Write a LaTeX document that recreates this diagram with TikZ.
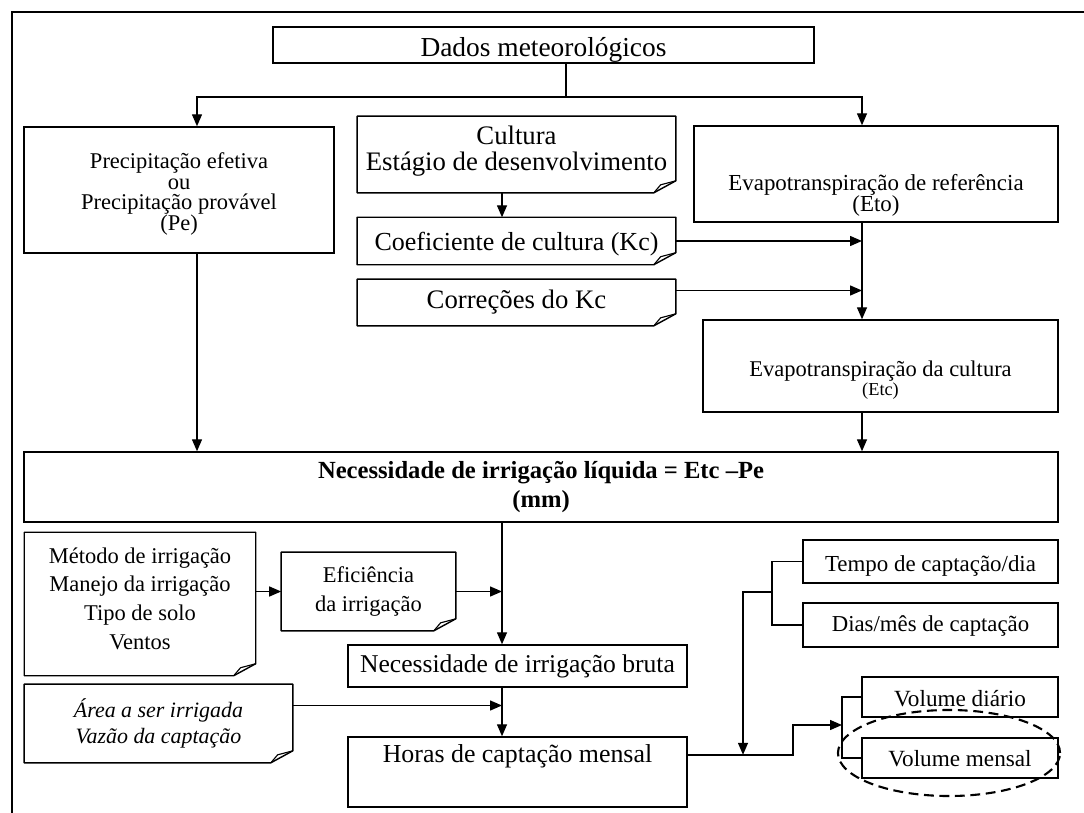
\documentclass[tikz,border=0pt]{standalone}
\usepackage{fontspec}
\setmainfont{Liberation Serif}
\usetikzlibrary{arrows.meta,shapes.geometric}
\newcommand{\padT}[1]{\rule{0pt}{#1}}
\newcommand{\padB}[1]{\rule[-#1]{0pt}{#1}}
\newcommand{\boxfont}[2]{\fontsize{#1}{#2}\selectfont\lineskiplimit-20pt\relax}
\tikzset{
  blk/.style={
    rectangle, draw=black, line width=1pt, align=center, inner sep=0pt,
    font=\boxfont{16}{17},
  },
  blkF/.style={
    blk, draw=none,
    append after command={\pgfextra{\let\foldnode\tikzlastnode
      \draw[line width=1pt, line join=round]
        (\foldnode.south west) -- (\foldnode.north west) -- (\foldnode.north east)
        -- ([yshift=0.3cm]\foldnode.south east) -- ([xshift=-0.55cm]\foldnode.south east) -- cycle;
      \draw[line width=0.8pt, line join=round]
        ([xshift=-0.55cm]\foldnode.south east) -- ([xshift=-0.38cm,yshift=0.2cm]\foldnode.south east)
        -- ([yshift=0.3cm]\foldnode.south east);}},
  },
  lnk/.style={line width=1pt},
  arr/.style={-{Triangle[length=3mm,width=2.5mm]}, line width=1pt},
  frame/.style={line width=1.8pt},
  ring/.style={ellipse, draw, line width=1.5pt, dash pattern=on 7pt off 4pt,
    minimum width=5.55cm, minimum height=2.15cm},
}

\begin{document}
\begin{tikzpicture}[x=0.025cm, y=-0.025cm]
\useasboundingbox (0,0) rectangle (1084,813);

% ===== outer frame =====
\draw[frame] (1084,12) -- (12,12) -- (12,813);

% ===== guide columns =====
\coordinate (colP) at (197,0);
\coordinate (colK) at (502,0);
\coordinate (colE) at (862,0);
\coordinate (split) at (566,97);

% ===== top: weather data =====
\node[blk, font=\boxfont{19.5}{20}, minimum width=13.53cm, minimum height=0.9cm]
  (dados) at (543.5,45) {\padT{20pt}Dados meteorológicos};

% ===== left: rainfall =====
\node[blk, font=\boxfont{16}{14.5}, minimum width=7.75cm, minimum height=3.15cm]
  (precip) at (179,190)
  {\padT{17pt}Precipitação efetiva\\ou\\Precipitação provável\\(Pe)};

% ===== center: crop inputs =====
\node[blkF, font=\boxfont{19}{19}, minimum width=7.93cm, minimum height=1.88cm]
  (cultura) at (516.5,154.5) {Cultura\\Estágio de desenvolvimento\padB{9pt}};
\node[blkF, font=\boxfont{18.5}{19}, minimum width=7.93cm, minimum height=1.15cm]
  (kc) at (516.5,241) {\padT{18pt}Coeficiente de cultura (Kc)};
\node[blkF, font=\boxfont{19}{19}, minimum width=7.93cm, minimum height=1.13cm]
  (corr) at (516.5,302.5) {Correções do Kc};

% ===== right: evapotranspiration =====
\node[blk, font=\boxfont{16.3}{15.5}, minimum width=9.1cm, minimum height=2.4cm]
  (eto) at (876,174) {\padT{42pt}Evapotranspiração de referência\\(Eto)};
\node[blk, font=\boxfont{16}{14}, minimum width=8.88cm, minimum height=2.3cm]
  (etc) at (880.5,366)
  {\padT{31pt}Evapotranspiração da cultura\\{\fontsize{13}{14}\selectfont (Etc)}};

% ===== net requirement =====
\node[blk, font=\boxfont{17.5}{20}\bfseries, minimum width=25.85cm, minimum height=1.75cm]
  (liq) at (541,487) {Necessidade de irrigação líquida = Etc –Pe\\(mm)};

% ===== lower left: irrigation inputs =====
\node[blkF, font=\boxfont{16}{20.3}, minimum width=5.75cm, minimum height=3.55cm]
  (metodo) at (140,604)
  {Método de irrigação\\Manejo da irrigação\\Tipo de solo\\Ventos\padB{8pt}};
\node[blkF, font=\boxfont{16}{20.4}, minimum width=4.33cm, minimum height=1.93cm]
  (efic) at (368.5,591.5) {Eficiência\\da irrigação};
\node[blkF, font=\boxfont{15.6}{19}\itshape, minimum width=6.68cm, minimum height=1.93cm]
  (area) at (158.5,723.5) {Área a ser irrigada\\Vazão da captação};

% ===== gross requirement and pumping hours =====
\node[blk, font=\boxfont{18.2}{19}, minimum width=8.48cm, minimum height=1.05cm]
  (bruta) at (517.5,666) {Necessidade de irrigação bruta};
\node[blk, font=\boxfont{18.4}{19}, minimum width=8.48cm, minimum height=1.75cm]
  (horas) at (517.5,772) {Horas de captação mensal\padB{26pt}};

% ===== lower right: pumping schedule and volumes =====
\node[blk, font=\boxfont{16.3}{17}, minimum width=6.38cm, minimum height=1.08cm]
  (tempo) at (930.5,561.5) {\padT{17.5pt}Tempo de captação/dia};
\node[blk, font=\boxfont{16.2}{17}, minimum width=6.38cm, minimum height=1.1cm]
  (dias) at (930.5,625) {\padT{13pt}Dias/mês de captação};
\node[blk, font=\boxfont{16.5}{17}, minimum width=4.9cm, minimum height=1.0cm]
  (vdia) at (960,697) {\padT{14pt}Volume diário};
\node[blk, font=\boxfont{16.5}{17}, minimum width=4.9cm, minimum height=1.0cm]
  (vmes) at (960,758) {\padT{12pt}Volume mensal};
\node[ring] (destaque) at (949,753) {};

% ===== junction points =====
\coordinate (corrOut) at ([yshift=0.3cm]corr.east);
\coordinate (areaOut) at ([yshift=0.45cm]area.east);
\coordinate (hout) at ([yshift=0.43cm]horas.east);
\coordinate (tbr) at (772,592);
\coordinate (tin) at (743,592);
\coordinate (hup) at (793,725);
\coordinate (vbr) at (842,725);

% ===== arrows: top part =====
\draw[lnk] (dados.south -| split) -- (split);
\draw[arr] (split) -| (precip.north -| colP);
\draw[arr] (split) -| (eto.north -| colE);
\draw[arr] (cultura.south -| colK) -- (kc.north -| colK);
\draw[arr] (kc.east) -- (kc.east -| colE);
\draw[arr] (corrOut) -- (corrOut -| colE);
\draw[arr] (eto.south -| colE) -- (etc.north -| colE);
\draw[arr] (etc.south -| colE) -- (liq.north -| colE);
\draw[arr] (precip.south -| colP) -- (liq.north -| colP);

% ===== arrows: bottom part =====
\draw[arr] (liq.south -| colK) -- (bruta.north -| colK);
\draw[arr] (metodo.east |- efic.west) -- (efic.west);
\draw[arr] (efic.east) -- (efic.east -| colK);
\draw[arr] (bruta.south -| colK) -- (horas.north -| colK);
\draw[arr] (areaOut) -- (areaOut -| colK);

% schedule -> volumes
\draw[lnk] (tempo.west) -| (tbr) |- (dias.west);
\draw[arr] (tbr) -- (tin) -- (tin |- hout);
\draw[arr] (hout) -| (hup) -- (vbr);
\draw[lnk] (vdia.west) -| (vbr) |- (vmes.west);

\end{tikzpicture}
\end{document}
